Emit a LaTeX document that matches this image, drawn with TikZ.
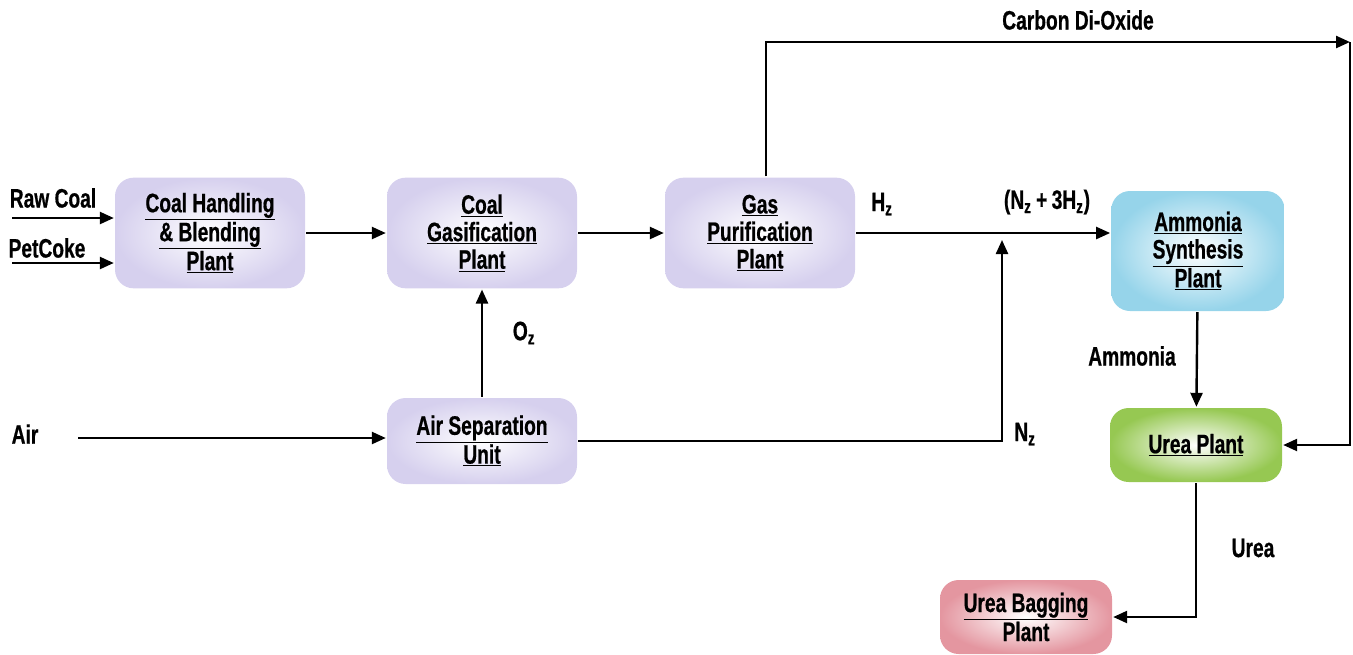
\documentclass[tikz,border=0pt]{standalone}
\usepackage{fontspec}
\setmainfont{Liberation Sans}[FakeStretch=0.72, BoldFeatures={FakeBold=0.6}]
\usetikzlibrary{arrows.meta, positioning, calc}

\definecolor{lav}{RGB}{214,208,238}
\definecolor{skyb}{RGB}{150,212,234}
\definecolor{leaf}{RGB}{150,200,82}
\definecolor{rose}{RGB}{228,150,160}

\newcommand{\ul}[1]{\underline{#1}}

\begin{document}
\begin{tikzpicture}[x=0.75pt, y=-0.75pt, >={Triangle[length=10.5pt, width=9pt]}, line width=1.8pt,
    plant/.style={rounded corners=14pt, inner color=white, outer color=lav,
        minimum width=142.5pt, minimum height=83pt, align=center,
        font=\fontsize{20}{20.6}\selectfont\bfseries},
    lbl/.style={font=\fontsize{20}{21}\selectfont\bfseries}]
    \useasboundingbox (0,0) rectangle (1353,654);

    % plants
    \node[plant] (coal) at (210,233) {\ul{Coal Handling}\\ \ul{\& Blending}\\ \ul{Plant}};
    \node[plant] (gasif) at (482,233) {\ul{Coal}\\ \ul{Gasification}\\ \ul{Plant}};
    \node[plant] (gas) at (760,233) {\ul{Gas}\\ \ul{Purification}\\ \ul{Plant}};
    \node[plant, outer color=skyb, minimum width=130pt, minimum height=90pt] (amm) at (1198,251)
        {\ul{Ammonia}\\ \ul{Synthesis}\\ \ul{Plant}};
    \node[plant, minimum height=64.5pt] (asu) at (482,441) {\ul{Air Separation}\\ \ul{Unit}};
    \node[plant, outer color=leaf, minimum width=129pt, minimum height=55.5pt] (urea) at (1196,445)
        {\ul{Urea Plant}};
    \node[plant, outer color=rose, minimum width=129pt, minimum height=55.5pt] (bag) at (1026,617)
        {\ul{Urea Bagging}\\ Plant};

    % feeds
    \coordinate (rawin) at (12,218);
    \coordinate (petin) at (12,263);
    \coordinate (airin) at (78,438);
    \draw[->] (rawin) -- (rawin -| coal.west);
    \draw[->] (petin) -- (petin -| coal.west);
    \draw[->] (airin) -- (airin -| asu.west);
    \node[lbl] (rawlbl) at (53,198) {Raw Coal};
    \node[lbl] (petlbl) at (47,248) {PetCoke};
    \node[lbl] (airlbl) at (25,434) {Air};

    % main line
    \draw[->] (coal) -- (gasif);
    \draw[->] (gasif) -- (gas);
    \draw[->] (gas.east) -- (gas.east -| amm.west);
    \node[lbl] (h2) at (882,204) {H\textsubscript{z}};
    \node[lbl] (mixlbl) at (1047,202) {(N\textsubscript{z}\,+\,3H\textsubscript{z})};

    % oxygen and nitrogen
    \draw[->] (asu) -- (gasif);
    \node[lbl] (o2) at (524,333) {O\textsubscript{z}};
    \coordinate (mix) at (1002,240);
    \draw[->] (asu.east) -| (mix);
    \node[lbl] (n2) at (1025,434) {N\textsubscript{z}};

    % ammonia and urea
    \draw[->] (amm) -- (urea);
    \node[lbl] (nh3) at (1132,356) {Ammonia};
    \draw[->] (urea.south) |- (bag.east);
    \node[lbl] (urealbl) at (1253,548) {Urea};

    % carbon dioxide
    \coordinate (co2turn) at (1350,42);
    \draw[->] ([xshift=4.5pt]gas.north) |- (co2turn);
    \draw[->] (co2turn) |- (urea.east);
    \node[lbl] (co2) at (1078,20) {Carbon Di-Oxide};
\end{tikzpicture}
\end{document}
